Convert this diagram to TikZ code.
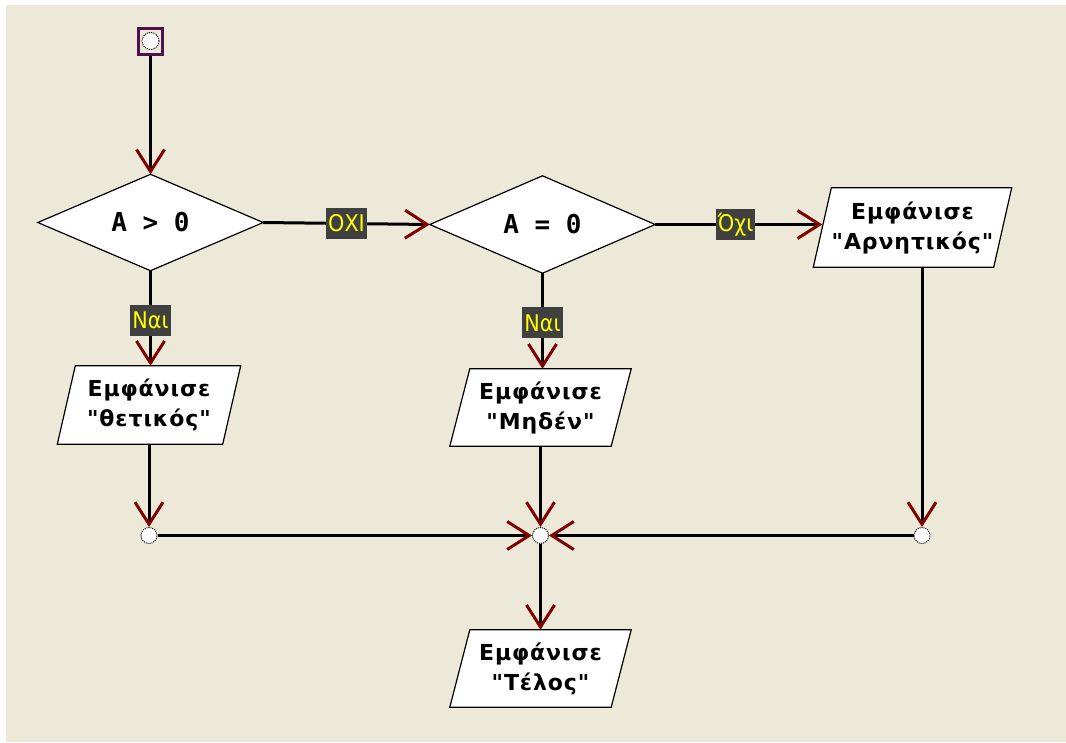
\documentclass[tikz,border=0pt]{standalone}
\usepackage{fontspec}
\setmainfont{DejaVu Sans}[Ligatures=TeXOff]
\newfontfamily\monob{DejaVu Sans Mono}[Ligatures=TeXOff]
\newfontfamily\condf{DejaVu Sans Condensed}[Ligatures=TeXOff]
\newfontfamily\boxfont{DejaVu Sans}[Ligatures=TeXOff,LetterSpace=4]
\usetikzlibrary{arrows.meta,calc,backgrounds}
\definecolor{bgbeige}{HTML}{ECE9D8}
\definecolor{startpurple}{RGB}{80,16,80}
\definecolor{lblgray}{HTML}{404040}
\definecolor{lblyellow}{HTML}{FFFF00}
\definecolor{arrred}{HTML}{800000}
\pgfdeclarelayer{bgzero}
\pgfdeclarelayer{bgone}
\pgfsetlayers{bgzero,bgone,main}
\tikzset{
  conn/.style={line width=3pt, black},
  arr/.style={conn, -{Straight Barb[length=22pt, width=28pt, line width=3pt, color=arrred]}},
  txt/.style={draw=none, align=center, inner sep=0pt, font=\boxfont\bfseries\fontsize{22}{30}\selectfont},
  dtxt/.style={draw=none, align=center, inner sep=0pt, font=\monob\bfseries\fontsize{26}{28}\selectfont},
  lbl/.style={fill=lblgray, text=lblyellow, inner sep=2pt, minimum height=31pt, font=\condf\fontsize{23}{25}\selectfont},
  junc/.style={circle, draw=black, line width=1pt, densely dotted, fill=white, minimum size=16pt, inner sep=0pt},
  startbox/.style={draw=startpurple, line width=3pt, fill=bgbeige, minimum width=24pt, minimum height=26pt, inner sep=0pt},
  shapeline/.style={draw=black, line width=1.2pt, fill=white},
}
\begin{document}
\begin{tikzpicture}[x=1pt,y=-1pt]
\useasboundingbox (0,0) rectangle (1066,742);
\begin{pgfonlayer}{bgzero}
  \fill[white] (0,0) rectangle (1066,742);
  \fill[bgbeige] (6,5) rectangle (1066,742);
\end{pgfonlayer}

% start
\node[startbox] (s) at (150.5,41) {};
\node[circle, draw=black, densely dotted, line width=1pt, fill=white, minimum size=17pt, inner sep=0pt] (sc) at (s.center) {};

% diamonds
\node[dtxt, minimum width=225pt, minimum height=96pt] (d1) at (150.5,222.5) {A > 0};
\node[dtxt, minimum width=225pt, minimum height=97pt] (d2) at (542.5,224.5) {A = 0};

% parallelograms
\node[txt, minimum width=165pt, minimum height=78pt] (p1) at (149,405) {Εμφάνισε\\"θετικός"};
\node[txt, minimum width=161pt, minimum height=77pt] (p2) at (540.5,407.5) {Εμφάνισε\\"Μηδέν"};
\node[txt, minimum width=180pt, minimum height=79pt] (p3) at (912.5,227.5) {Εμφάνισε\\"Αρνητικός"};
\node[txt, minimum width=161pt, minimum height=77pt] (p4) at (540.5,668.5) {Εμφάνισε\\"Τέλος"};

% junctions
\node[junc] (jl) at (149,535.5) {};
\node[junc] (jc) at (540.5,535.5) {};
\node[junc] (jr) at (922,535.5) {};

\begin{pgfonlayer}{bgone}
  \foreach \d in {d1,d2}{
    \path[shapeline] (\d.north) -- (\d.east) -- (\d.south) -- (\d.west) -- cycle;
  }
  \path[shapeline] ($(p1.north west)+(9,0)$) -- ($(p1.north east)+(9,0)$) -- ($(p1.south east)+(-9,0)$) -- ($(p1.south west)+(-9,0)$) -- cycle;
  \path[shapeline] ($(p2.north west)+(10,0)$) -- ($(p2.north east)+(10,0)$) -- ($(p2.south east)+(-10,0)$) -- ($(p2.south west)+(-10,0)$) -- cycle;
  \path[shapeline] ($(p3.north west)+(9,0)$) -- ($(p3.north east)+(9,0)$) -- ($(p3.south east)+(-9,0)$) -- ($(p3.south west)+(-9,0)$) -- cycle;
  \path[shapeline] ($(p4.north west)+(10,0)$) -- ($(p4.north east)+(10,0)$) -- ($(p4.south east)+(-10,0)$) -- ($(p4.south west)+(-10,0)$) -- cycle;
\end{pgfonlayer}

% connectors
\draw[arr] (s.south) -- (d1.north);
\draw[arr] (d1.east) -- (d2.west) node[lbl, pos=0.5] (l1) {ΟΧΙ};
\draw[arr] (d2.east) -- (d2.east -| p3.west) node[lbl, pos=0.48] (l2) {Όχι};
\draw[arr] (d1.south) -- (d1.south |- p1.north) node[lbl, pos=0.52] (l3) {Ναι};
\draw[arr] (d2.south) -- (d2.south |- p2.north) node[lbl, pos=0.52] (l4) {Ναι};
\draw[arr] (jl |- p1.south) -- (jl);
\draw[arr] (jc |- p2.south) -- (jc);
\draw[arr] (jr |- p3.south) -- (jr);
\draw[arr] (jl) -- (jc);
\draw[arr] (jr) -- (jc);
\draw[arr] (jc) -- (jc |- p4.north);
\end{tikzpicture}
\end{document}
